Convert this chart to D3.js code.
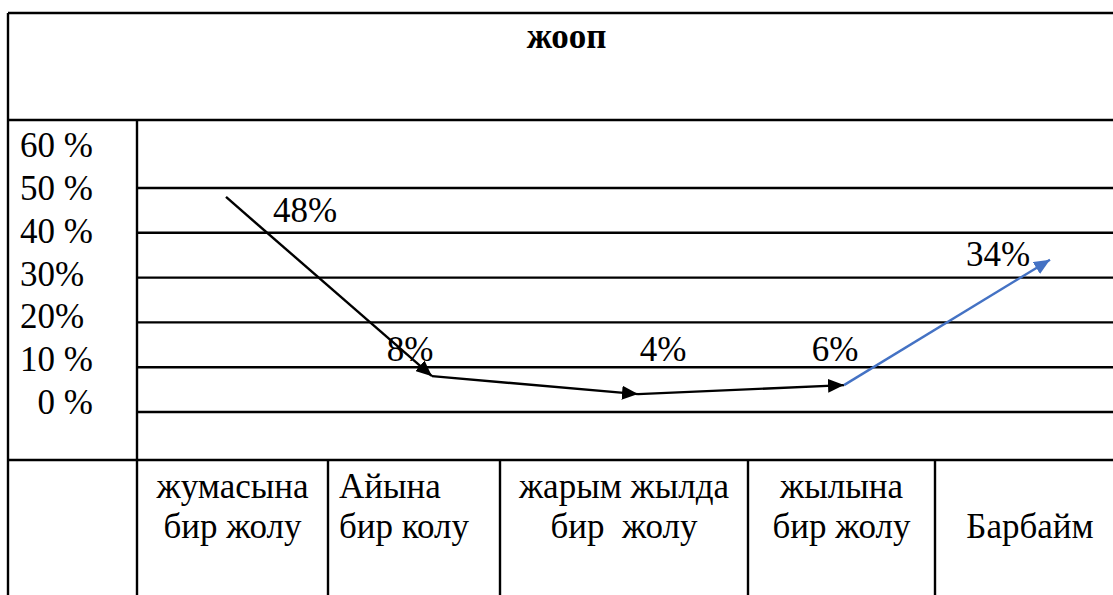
<!DOCTYPE html>
<html>
<head>
<meta charset="utf-8">
<script src="https://cdn.jsdelivr.net/npm/d3@7"></script>
<style>
  html, body { margin: 0; padding: 0; background: #fff; }
  svg { display: block; }
</style>
</head>
<body>
<svg id="chart" width="1113" height="595"></svg>
<script>
// ---------- data ----------
const title = "жооп";
const categories = ["жумасына бир жолу", "Айына бир колу", "жарым жылда бир  жолу", "жылына бир жолу", "Барбайм"];
const categoryLines = [["жумасына", "бир жолу"], ["Айына", "бир колу"], ["жарым жылда", "бир  жолу"], ["жылына", "бир жолу"], ["Барбайм"]];
const values = [48, 8, 4, 6, 34];
const valueLabels = ["48%", "8%", "4%", "6%", "34%"];
const yTickValues = [60, 50, 40, 30, 20, 10, 0];
const yTickLabels = ["60 %", "50 %", "40 %", "30%", "20%", "10 %", "  0 %"];
const gridValues = [50, 40, 30, 20, 10, 0];

// ---------- layout (not data) ----------
const W = 1113, H = 595;
const tableLeft = 8, tableTop = 13, tableRight = 1125;
const titleRowBottom = 120, chartRowBottom = 460, labelColRight = 137;
const colEdges = [137, 328, 500, 748, 935, 1125];
const colAlign = ["middle", "start", "middle", "middle", "middle"];
const labelDx = [79, -22, 25, -9, -52];
const labelDy = [13, -27, -45, -36, -6];
const fontSize = 35;
const lineColor = "#000";
const arrowColors = ["#000", "#000", "#000", "#4472C4"];

// keep runs of spaces visible
const keepSpaces = s => s.replace(/ (?= )/g, "\u00a0").replace(/^ /, "\u00a0");

const svg = d3.select("#chart");

// scales
const y = d3.scaleLinear().domain([0, 50]).range([412, 188]);
const yLabel = d3.scaleLinear().domain([0, 60]).range([402, 145]);
const x = d3.scalePoint().domain(categories).range([226, 1050]);

// ---------- table frame ----------
const frame = svg.append("g").attr("stroke", lineColor).attr("stroke-width", 2.4).attr("fill", "none");
frame.append("line").attr("x1", tableLeft).attr("x2", tableRight).attr("y1", tableTop).attr("y2", tableTop);
frame.append("line").attr("x1", tableLeft).attr("x2", tableLeft).attr("y1", tableTop).attr("y2", H + 5);
frame.append("line").attr("x1", tableRight).attr("x2", tableRight).attr("y1", tableTop).attr("y2", H + 5);
frame.append("line").attr("x1", tableLeft).attr("x2", tableRight).attr("y1", titleRowBottom).attr("y2", titleRowBottom);
frame.append("line").attr("x1", tableLeft).attr("x2", tableRight).attr("y1", chartRowBottom).attr("y2", chartRowBottom);
frame.append("line").attr("x1", labelColRight).attr("x2", labelColRight).attr("y1", titleRowBottom).attr("y2", H + 5);
frame.selectAll("line.col").data(colEdges.slice(1, -1)).join("line").attr("class", "col")
  .attr("x1", d => d).attr("x2", d => d).attr("y1", chartRowBottom).attr("y2", H + 5);

// grid lines
svg.append("g").selectAll("line").data(gridValues).join("line")
  .attr("x1", labelColRight).attr("x2", tableRight)
  .attr("y1", d => y(d)).attr("y2", d => y(d))
  .attr("stroke", lineColor).attr("stroke-width", 2.4);

const txt = sel => sel.style("font-family", '"Liberation Serif"')
  .attr("font-size", fontSize).attr("fill", "#000");

// title
svg.append("text").call(txt).text(title)
  .attr("x", (tableLeft + tableRight) / 2).attr("y", 48)
  .attr("text-anchor", "middle").attr("font-weight", "bold");

// y tick labels
svg.append("g").selectAll("text").data(yTickValues).join("text").call(txt)
  .attr("x", 20).attr("y", d => yLabel(d) + 12)
  .text((d, i) => keepSpaces(yTickLabels[i]));

// category labels
const catG = svg.append("g").selectAll("text").data(categoryLines).join("text").call(txt)
  .attr("text-anchor", (d, i) => colAlign[i])
  .attr("x", (d, i) => colAlign[i] === "start" ? colEdges[i] + 11 : (colEdges[i] + colEdges[i + 1]) / 2);
catG.each(function(lines, i) {
  const t = d3.select(this);
  const xx = +t.attr("x");
  const startY = lines.length === 1 ? 538 : 498;
  lines.forEach((ln, j) => {
    t.append("tspan").attr("x", xx).attr("y", startY + j * 40).text(keepSpaces(ln));
  });
});

// arrow markers
const defs = svg.append("defs");
arrowColors.forEach((c, i) => {
  defs.append("marker").attr("id", "arr" + i)
    .attr("markerUnits", "userSpaceOnUse")
    .attr("viewBox", "0 0 16 14").attr("markerWidth", 16).attr("markerHeight", 14)
    .attr("refX", 16).attr("refY", 7).attr("orient", "auto")
    .append("path").attr("d", "M0,0 L16,7 L0,14 Z").attr("fill", c);
});

// arrows between consecutive points
const pts = values.map((v, i) => [x(categories[i]), y(v)]);
const segs = d3.pairs(pts);
svg.append("g").selectAll("line").data(segs).join("line")
  .attr("x1", d => d[0][0]).attr("y1", d => d[0][1])
  .attr("x2", d => d[1][0]).attr("y2", d => d[1][1])
  .attr("stroke", (d, i) => arrowColors[i]).attr("stroke-width", 2.4)
  .attr("marker-end", (d, i) => `url(#arr${i})`);

// value labels
svg.append("g").selectAll("text").data(values).join("text").call(txt)
  .attr("text-anchor", "middle")
  .attr("x", (d, i) => pts[i][0] + labelDx[i])
  .attr("y", (d, i) => pts[i][1] + labelDy[i] + 12)
  .text((d, i) => valueLabels[i]);
</script>
</body>
</html>
